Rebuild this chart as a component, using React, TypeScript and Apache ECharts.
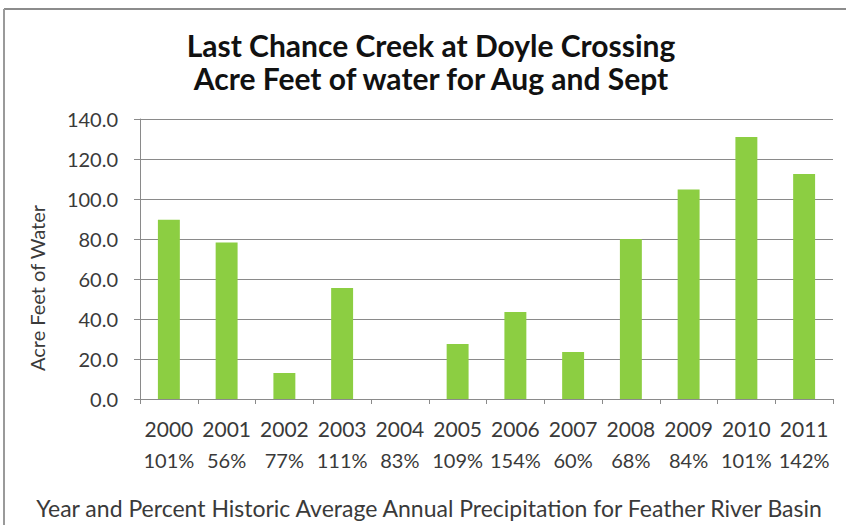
import React, { useEffect, useRef } from "react";
import * as echarts from "echarts";

const years = ["2000", "2001", "2002", "2003", "2004", "2005", "2006", "2007", "2008", "2009", "2010", "2011"];
const percents = ["101%", "56%", "77%", "111%", "83%", "109%", "154%", "60%", "68%", "84%", "101%", "142%"];
const acreFeet = [89.6, 78.3, 13.0, 55.5, 0, 27.5, 43.5, 23.5, 80.0, 104.7, 131.0, 112.5];
const yTicks = { min: 0, max: 140, interval: 20 };

const titleLine1 = "Last Chance Creek at Doyle Crossing";
const titleLine2 = "Acre Feet of water for Aug and Sept";
const yName = "Acre Feet of Water";
const xName = "Year and Percent Historic Average Annual Precipitation for Feather River Basin";

const FONT = "Lato, 'Open Sans', sans-serif";

export default function App() {
  const ref = useRef<HTMLDivElement>(null);
  useEffect(() => {
    if (!ref.current) return;
    const chart = echarts.init(ref.current, undefined, { renderer: "svg" });
    chart.setOption({
      animation: false,
      backgroundColor: "#ffffff",
      grid: { left: 140, right: 13, top: 119, bottom: 126, containLabel: false },
      xAxis: {
        type: "category",
        data: years,
        axisLine: { show: true, lineStyle: { color: "#8a8a8a", width: 1 } },
        axisTick: { show: true, interval: 0, length: 5, lineStyle: { color: "#8a8a8a" } },
        axisLabel: {
          interval: 0,
          margin: 14,
          formatter: (v: string, i: number) => `{y|${v}}\n{p|${percents[i]}}`,
          rich: {
            y: { fontFamily: FONT, fontSize: 21, color: "#3a3a3a", lineHeight: 30 },
            p: { fontFamily: FONT, fontSize: 20, color: "#3a3a3a", lineHeight: 33 },
          },
        },
      },
      yAxis: {
        type: "value",
        min: yTicks.min,
        max: yTicks.max,
        interval: yTicks.interval,
        axisLine: { show: true, lineStyle: { color: "#8a8a8a", width: 1 } },
        axisTick: { show: true, inside: false, length: 6, lineStyle: { color: "#8a8a8a" } },
        splitLine: { show: true, lineStyle: { color: "#8a8a8a", width: 1 } },
        axisLabel: {
          margin: 22,
          formatter: (v: number) => v.toFixed(1),
          fontFamily: FONT,
          fontSize: 20,
          color: "#3a3a3a",
        },
      },
      series: [
        {
          type: "bar",
          data: acreFeet,
          barWidth: "38%",
          itemStyle: { color: "#8cce42" },
        },
      ],
      graphic: [
        {
          type: "line",
          shape: { x1: 4, y1: 9, x2: 846, y2: 9 },
          style: { stroke: "#8c8c8c", lineWidth: 2 },
        },
        {
          type: "line",
          shape: { x1: 4, y1: 9, x2: 4, y2: 525 },
          style: { stroke: "#9a9a9a", lineWidth: 2 },
        },
        {
          type: "text",
          x: 431,
          y: 45,
          style: {
            text: titleLine1,
            fontFamily: FONT,
            fontSize: 30,
            fontWeight: "bold",
            fill: "#111111",
            textAlign: "center",
            textVerticalAlign: "middle",
          },
        },
        {
          type: "text",
          x: 431,
          y: 78,
          style: {
            text: titleLine2,
            fontFamily: FONT,
            fontSize: 30,
            fontWeight: "bold",
            fill: "#111111",
            textAlign: "center",
            textVerticalAlign: "middle",
          },
        },
        {
          type: "text",
          x: 37,
          y: 288,
          rotation: Math.PI / 2,
          style: {
            text: yName,
            fontFamily: FONT,
            fontSize: 20,
            fill: "#3a3a3a",
            textAlign: "center",
            textVerticalAlign: "middle",
          },
        },
        {
          type: "text",
          x: 429,
          y: 508,
          style: {
            text: xName,
            fontFamily: FONT,
            fontSize: 23,
            fill: "#3a3a3a",
            textAlign: "center",
            textVerticalAlign: "middle",
          },
        },
      ],
    });
    return () => chart.dispose();
  }, []);
  return (
    <div
      ref={ref}
      style={{ position: "absolute", left: 0, top: 0, width: 846, height: 525 }}
    />
  );
}
